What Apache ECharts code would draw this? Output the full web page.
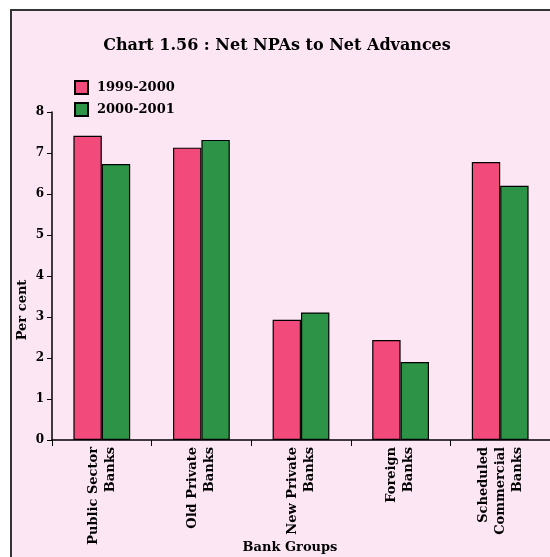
<!DOCTYPE html>
<html>
<head>
<meta charset="utf-8">
<script src="https://cdn.jsdelivr.net/npm/echarts@6/dist/echarts.min.js"></script>
<style>
  html, body { margin: 0; padding: 0; background: #ffffff; }
  #chart { width: 550px; height: 557px; }
</style>
</head>
<body>
<div id="chart"></div>
<script>
var categories = ['Public Sector\nBanks', 'Old Private\nBanks', 'New Private\nBanks', 'Foreign\nBanks', 'Scheduled\nCommercial\nBanks'];
var series_names = ['1999-2000', '2000-2001'];
var values_1999 = [7.42, 7.13, 2.93, 2.44, 6.78];
var values_2000 = [6.73, 7.32, 3.11, 1.90, 6.20];
var y_ticks = [0, 1, 2, 3, 4, 5, 6, 7, 8];

var font_main = '"DejaVu Serif", "Liberation Serif", serif';

var chart_bank = echarts.init(document.getElementById('chart'));

var option_bank = {
    backgroundColor: '#ffffff',
    animation: false,
    graphic: [
        {
            type: 'rect',
            z: -10,
            shape: { x: 11, y: 10, width: 600, height: 600 },
            style: { fill: '#fde6f4', stroke: '#333333', lineWidth: 2 }
        },
        // axis names placed like the original
        {
            type: 'text',
            x: 23,
            y: 310,
            rotation: Math.PI / 2,
            style: {
                text: 'Per cent',
                font: 'bold 13px ' + font_main,
                fill: '#000000',
                align: 'center',
                verticalAlign: 'middle'
            }
        },
        {
            type: 'text',
            x: 290,
            y: 548,
            style: {
                text: 'Bank Groups',
                font: 'bold 13px ' + font_main,
                fill: '#000000',
                align: 'center',
                verticalAlign: 'middle'
            }
        }
    ],
    title: {
        text: 'Chart 1.56 : Net NPAs to Net Advances',
        left: 272,
        top: 33,
        textAlign: 'center',
        textStyle: {
            fontFamily: font_main,
            fontWeight: 'bold',
            fontSize: 16,
            color: '#000000'
        }
    },
    legend: {
        data: series_names,
        orient: 'vertical',
        left: 74,
        top: 80,
        padding: 0,
        itemWidth: 13,
        itemHeight: 13,
        itemGap: 7,
        icon: 'rect',
        textStyle: {
            fontFamily: font_main,
            fontWeight: 'bold',
            fontSize: 13,
            color: '#000000',
            padding: [0, 0, 0, 4]
        }
    },
    grid: {
        left: 52,
        right: -2,
        top: 112,
        bottom: 117,
        containLabel: false
    },
    xAxis: {
        type: 'category',
        data: categories,
        axisLine: { lineStyle: { color: '#000000', width: 1.5 } },
        axisTick: { show: true, length: 6, lineStyle: { color: '#000000' } },
        axisLabel: {
            rotate: 90,
            interval: 0,
            margin: 7,
            fontFamily: font_main,
            fontWeight: 'bold',
            fontSize: 13,
            lineHeight: 17,
            color: '#000000'
        }
    },
    yAxis: {
        type: 'value',
        min: 0,
        max: 8,
        interval: 1,
        splitLine: { show: false },
        axisLine: { show: true, lineStyle: { color: '#000000', width: 1.5 } },
        axisTick: { show: true, length: 5, lineStyle: { color: '#000000' } },
        axisLabel: {
            margin: 8,
            fontFamily: font_main,
            fontWeight: 'bold',
            fontSize: 12,
            color: '#000000',
            formatter: function (v) { return y_ticks.indexOf(v) >= 0 ? String(v) : ''; }
        }
    },
    series: [
        {
            name: series_names[0],
            type: 'bar',
            data: values_1999,
            barGap: '0%',
            barCategoryGap: '43%',
            itemStyle: { color: '#f24b7b', borderColor: '#000000', borderWidth: 1.2 }
        },
        {
            name: series_names[1],
            type: 'bar',
            data: values_2000,
            itemStyle: { color: '#2d9447', borderColor: '#000000', borderWidth: 1.2 }
        }
    ]
};

chart_bank.setOption(option_bank);
</script>
</body>
</html>
